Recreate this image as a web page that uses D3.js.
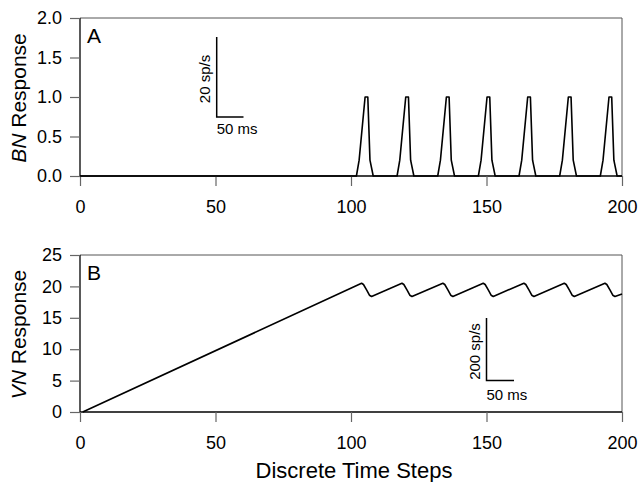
<!DOCTYPE html>
<html><head><meta charset="utf-8">
<script src="https://cdn.jsdelivr.net/npm/d3@7"></script>
<style>body{margin:0;background:#fff}svg{display:block;font-family:"Liberation Sans",Arial,Helvetica,sans-serif}</style>
</head><body>
<script>
// ---- data ----
const xTicks = [0, 50, 100, 150, 200];
const bnTicks = [0.0, 0.5, 1.0, 1.5, 2.0];
const vnTicks = [0, 5, 10, 15, 20, 25];
// BN response vertices [time step, value]
const bnPoints = [
  [0,0],[102,0],[103,0.2],[105.2,1],[106.2,1],[107,0.2],[108.2,0],
  [117,0],[118,0.2],[120.2,1],[121.2,1],[122,0.2],[123.2,0],
  [132,0],[133,0.2],[135.2,1],[136.2,1],[137,0.2],[138.2,0],
  [147,0],[148,0.2],[150.2,1],[151.2,1],[152,0.2],[153.2,0],
  [162,0],[163,0.2],[165.2,1],[166.2,1],[167,0.2],[168.2,0],
  [177,0],[178,0.2],[180.2,1],[181.2,1],[182,0.2],[183.2,0],
  [192,0],[193,0.2],[195.2,1],[196.2,1],[197,0.2],[198.2,0],[200,0]
];
// VN response vertices [time step, value]
const vnPoints = [
  [1,0],
  [103.9,20.5],[104.6,20.3],[105.8,19.4],[106.8,18.6],[107.6,18.4],
  [118.8,20.5],[119.5,20.3],[120.7,19.4],[121.7,18.6],[122.5,18.4],
  [133.9,20.5],[134.6,20.3],[135.8,19.4],[136.8,18.6],[137.6,18.4],
  [148.8,20.5],[149.5,20.3],[150.7,19.4],[151.7,18.6],[152.5,18.4],
  [163.8,20.5],[164.5,20.3],[165.7,19.4],[166.7,18.6],[167.5,18.4],
  [178.7,20.5],[179.4,20.3],[180.6,19.4],[181.6,18.6],[182.4,18.4],
  [193.7,20.5],[194.4,20.3],[195.6,19.4],[196.6,18.6],[197.4,18.4],
  [200,18.8]
];

// ---- drawing ----
const W = 640, H = 482;
const svg = d3.select("body").append("svg").attr("width", W).attr("height", H);

const x = d3.scaleLinear().domain([0, 200]).range([80, 622]);

function panel(opts) {
  const y = d3.scaleLinear().domain(opts.ydom).range([opts.bottom, opts.top]);
  const g = svg.append("g");
  // frame (top/right)
  g.append("path")
    .attr("d", `M80,${opts.top}H622V${opts.bottom}`)
    .attr("fill", "none").attr("stroke", "#555").attr("stroke-width", 1);
  // y axis
  const ya = g.append("g").attr("transform", "translate(80,0)")
    .call(d3.axisLeft(y).tickValues(opts.yticks).tickFormat(opts.yfmt).tickSize(10).tickPadding(8));
  // x axis
  const xa = g.append("g").attr("transform", `translate(0,${opts.bottom})`)
    .call(d3.axisBottom(x).tickValues(xTicks).tickSize(10).tickPadding(14));
  [ya, xa].forEach(a => {
    a.select(".domain").attr("stroke", "#000").attr("stroke-width", 1.3);
    a.selectAll(".tick line").attr("stroke", "#666").attr("stroke-width", 1.2);
    a.selectAll(".tick text").attr("font-size", 18).attr("fill", "#000")
      .attr("font-family", "'Liberation Sans',Arial,sans-serif");
  });
  ya.select(".domain").attr("d", `M0,${opts.bottom}V${opts.top}`);
  xa.select(".domain").attr("d", "M80,0H622");
  // line
  g.append("path").datum(opts.data)
    .attr("d", d3.line().x(d => x(d[0])).y(d => y(d[1])))
    .attr("fill", "none").attr("stroke", "#000").attr("stroke-width", 1.6)
    .attr("stroke-linejoin", "round");
  // panel letter
  g.append("text").attr("x", 87).attr("y", opts.top + 24.5).attr("font-size", 21).text(opts.letter);
  // y label
  const yl = g.append("text")
    .attr("transform", `translate(${opts.ylx},${(opts.top + opts.bottom) / 2 + 1}) rotate(-90)`)
    .attr("text-anchor", "middle").attr("font-size", 21);
  yl.append("tspan").attr("font-style", "italic").text(opts.ylabelIt);
  yl.append("tspan").text(" Response");
  // scale bar
  const sb = opts.sb;
  g.append("path").attr("d", `M${sb.x},${sb.y0}V${sb.y1}H${sb.x2}`)
    .attr("fill", "none").attr("stroke", "#000").attr("stroke-width", 1.5);
  g.append("text")
    .attr("transform", `translate(${sb.x - 6.5},${sb.vc}) rotate(-90)`)
    .attr("text-anchor", "middle").attr("font-size", 15).text(sb.vlabel);
  g.append("text").attr("x", sb.x).attr("y", sb.ty).attr("font-size", 15).text("50 ms");
}

panel({
  top: 18, bottom: 176, ydom: [0, 2], yticks: bnTicks, yfmt: d3.format(".1f"),
  data: bnPoints, letter: "A", ylabelIt: "BN", ylx: 26,
  sb: { x: 216.7, y0: 37, y1: 117, x2: 243.5, vlabel: "20 sp/s", vc: 79, ty: 134 }
});
panel({
  top: 255, bottom: 412, ydom: [0, 25], yticks: vnTicks, yfmt: d3.format("d"),
  data: vnPoints, letter: "B", ylabelIt: "VN", ylx: 26,
  sb: { x: 486.5, y0: 318, y1: 380.5, x2: 514, vlabel: "200 sp/s", vc: 351.5, ty: 400 }
});

svg.append("text").attr("x", 354).attr("y", 478).attr("text-anchor", "middle")
  .attr("font-size", 22).text("Discrete Time Steps");
</script>
</body></html>
